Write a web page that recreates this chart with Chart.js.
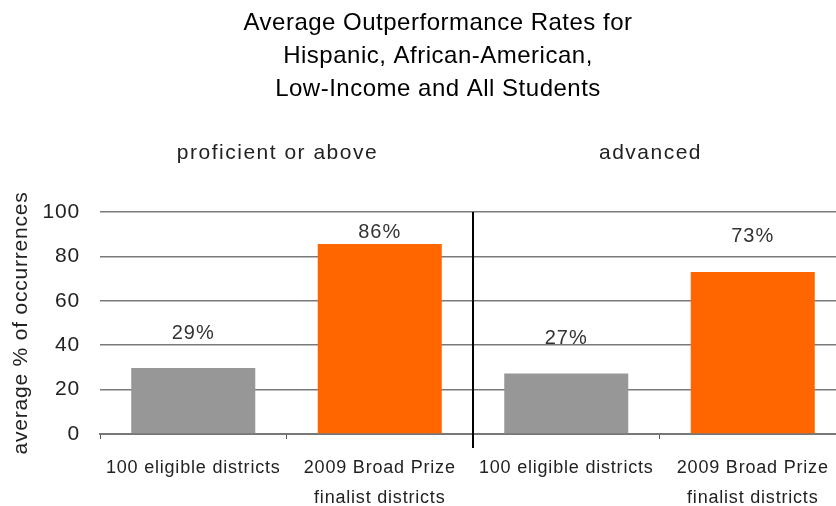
<!DOCTYPE html>
<html>
<head>
<meta charset="utf-8">
<script src="https://cdn.jsdelivr.net/npm/chart.js@4"></script>
<style>
html,body{margin:0;padding:0;background:#fff;overflow:hidden;}
canvas{display:block;}
</style>
</head>
<body>
<canvas id="c" width="846" height="506"></canvas>
<script>
const titleLines = ["Average Outperformance Rates for", "Hispanic, African-American,", "Low-Income and All Students"];
const groups = ["proficient or above", "advanced"];
const categories = [["100 eligible districts"], ["2009 Broad Prize", "finalist districts"], ["100 eligible districts"], ["2009 Broad Prize", "finalist districts"]];
const values = [29.7, 85.6, 27.2, 73.0];
const valueLabels = ["29%", "86%", "27%", "73%"];
const barColors = ["#979797", "#ff6600", "#979797", "#ff6600"];
const yTicks = [0, 20, 40, 60, 80, 100];
const yTitle = "average % of occurrences";

const FONT = "'Liberation Sans', Arial, sans-serif";

const overlay = {
  id: 'overlay',
  beforeDraw(chart) {
    chart.ctx.letterSpacing = '0.8px';
  },
  afterDraw(chart) {
    const ctx = chart.ctx;
    const x = chart.scales.x, y = chart.scales.y;
    const area = chart.chartArea;
    ctx.save();
    // title
    ctx.fillStyle = '#000';
    ctx.font = "24px " + FONT;
    ctx.letterSpacing = '0.5px';
    ctx.textAlign = 'center';
    ctx.textBaseline = 'alphabetic';
    titleLines.forEach((t, i) => ctx.fillText(t, 438, 30 + i * 33));
    // group headers
    ctx.fillStyle = '#222';
    ctx.font = "21px " + FONT;
    ctx.letterSpacing = '1.5px';
    ctx.textBaseline = 'middle';
    groups.forEach((g, i) => ctx.fillText(g, x.getPixelForValue(i * 2 + 0.5) - 9, 153));
    // divider
    ctx.strokeStyle = '#000';
    ctx.lineWidth = 2;
    const dx = Math.round(x.getPixelForValue(1.5));
    ctx.beginPath();
    ctx.moveTo(dx, area.top);
    ctx.lineTo(dx, area.bottom + 14);
    ctx.stroke();
    // value labels
    ctx.fillStyle = '#333';
    ctx.font = "20px " + FONT;
    ctx.letterSpacing = '1px';
    const meta = chart.getDatasetMeta(0);
    meta.data.forEach((bar, i) => {
      const ly = Math.max(bar.y - 35, y.getPixelForValue(100) + 20);
      ctx.fillText(valueLabels[i], bar.x, ly);
    });
    ctx.restore();
  }
};

new Chart(document.getElementById('c'), {
  type: 'bar',
  data: {
    labels: categories,
    datasets: [{
      data: values,
      backgroundColor: barColors,
      borderWidth: 0,
      barPercentage: 0.665,
      categoryPercentage: 1
    }]
  },
  options: {
    responsive: false,
    animation: false,
    devicePixelRatio: 1,
    layout: { padding: { top: 212, bottom: 0, left: 0, right: 0 } },
    plugins: { legend: { display: false }, tooltip: { enabled: false }, title: { display: false } },
    scales: {
      x: {
        grid: { offset: true, drawOnChartArea: false, color: '#555', lineWidth: 1, tickLength: 5 },
        border: { color: '#777', width: 2 },
        ticks: { color: '#222', font: { family: FONT, size: 18, lineHeight: 1.65 }, padding: 14, maxRotation: 0, autoSkip: false },
        afterFit(s) { s.height = 72; }
      },
      y: {
        min: 0, max: 100,
        afterBuildTicks(s) { s.ticks = yTicks.map(v => ({ value: v })); },
        grid: { color: '#7a7a7a', lineWidth: 1.5, drawTicks: false },
        border: { display: false },
        ticks: { color: '#222', font: { family: FONT, size: 21 }, padding: 20 },
        title: { display: true, text: yTitle, color: '#222', font: { family: FONT, size: 21 }, padding: { top: 9, bottom: 0 } },
        afterFit(s) { s.width = 100; }
      }
    }
  },
  plugins: [overlay]
});
</script>
</body>
</html>
